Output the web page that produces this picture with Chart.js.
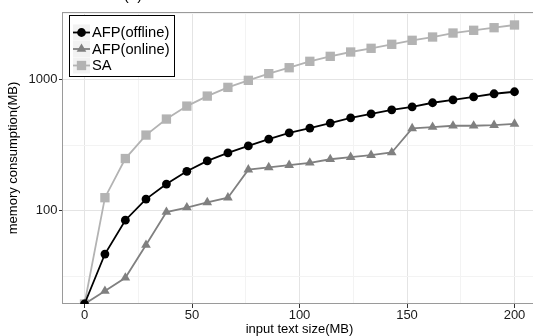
<!DOCTYPE html>
<html>
<head>
<meta charset="utf-8">
<script src="https://cdn.jsdelivr.net/npm/chart.js@4.4.0/dist/chart.umd.min.js"></script>
<style>
  html, body { margin: 0; padding: 0; background: #fff; overflow: hidden; }
</style>
</head>
<body>
<canvas id="chart" width="536" height="336"></canvas>
<script>
// input sizes (MB), 22 runs
const sizes = [0, 9.5, 19.0, 28.6, 38.1, 47.6, 57.1, 66.7, 76.2, 85.7, 95.2,
               104.8, 114.3, 123.8, 133.3, 142.9, 152.4, 161.9, 171.4, 181.0, 190.5, 200];
// memory consumption (MB)
const afpOffline = [19.6, 47, 85, 123, 160, 200, 240, 276, 312, 351, 392,
                    426, 465, 510, 547, 587, 618, 664, 699, 737, 777, 805];
const afpOnline  = [19.6, 24.6, 31, 55, 98, 106, 116, 126, 206, 214, 223,
                    232, 247, 256, 265, 278, 424, 434, 444, 444, 449, 459];
const sa         = [19.6, 126, 250, 377, 499, 626, 746, 869, 983, 1105, 1226,
                    1371, 1496, 1614, 1722, 1847, 1980, 2098, 2250, 2360, 2470, 2590];

const xTicks = [0, 50, 100, 150, 200];
const xMinor = [25, 75, 125, 175];
const yTicks = [100, 1000];
const yMinor = [31.62, 316.2, 3162];

const FONT = '"Liberation Sans", Arial, Helvetica, sans-serif';

function pts(ys) {
    return sizes.map((x, i) => ({ x: x, y: ys[i] }));
}

// panel border, legend box and the cut-off panel title
const frame = {
    id: 'frame',
    beforeDatasetsDraw(chart) {
        const ctx = chart.ctx, a = chart.chartArea;
        ctx.save();
        ctx.strokeStyle = '#9a9a9a';
        ctx.lineWidth = 1;
        ctx.strokeRect(a.left - 0.5, a.top + 0.5, a.right - a.left + 10, a.bottom - a.top - 1);
        ctx.restore();
    },
    afterDraw(chart) {
        const ctx = chart.ctx;
        ctx.save();
        ctx.fillStyle = '#fff';
        ctx.fillRect(69.5, 15.5, 105, 61);
        ctx.strokeStyle = '#000';
        ctx.lineWidth = 1;
        ctx.strokeRect(69.5, 15.5, 105, 61);

        const rows = [32.5, 49, 65.5];
        chart.data.datasets.forEach((ds, i) => {
            const cy = rows[i];
            ctx.fillStyle = '#f2f2f2';
            ctx.fillRect(73, cy - 8, 17, 16);
            ctx.strokeStyle = ds.borderColor;
            ctx.lineWidth = ds.borderWidth;
            ctx.beginPath();
            ctx.moveTo(73, cy);
            ctx.lineTo(90, cy);
            ctx.stroke();
            ctx.fillStyle = ds.pointBackgroundColor;
            Chart.helpers.drawPoint(ctx, {
                pointStyle: ds.pointStyle, radius: ds.pointRadius, rotation: 0, borderWidth: 0
            }, 81.5, cy);
            ctx.fillStyle = '#000';
            ctx.font = '14.7px ' + FONT;
            ctx.textAlign = 'left';
            ctx.textBaseline = 'middle';
            ctx.fillText(ds.label, 92, cy + 0.5);
        });

        ctx.fillStyle = '#000';
        ctx.font = '15px ' + FONT;
        ctx.textAlign = 'center';
        ctx.textBaseline = 'alphabetic';
        ctx.fillText('(a)', 133, -0.5);
        ctx.restore();
    }
};

const ctx = document.getElementById('chart').getContext('2d');

const config = {
    type: 'line',
    data: {
        datasets: [
            {
                label: 'AFP(offline)',
                data: pts(afpOffline),
                borderColor: '#000000',
                pointBackgroundColor: '#000000',
                pointBorderWidth: 0,
                pointStyle: 'circle',
                pointRadius: 4.4,
                borderWidth: 1.8
            },
            {
                label: 'AFP(online)',
                data: pts(afpOnline),
                borderColor: '#808080',
                pointBackgroundColor: '#808080',
                pointBorderWidth: 0,
                pointStyle: 'triangle',
                pointRadius: 5.6,
                borderWidth: 1.8
            },
            {
                label: 'SA',
                data: pts(sa),
                borderColor: '#b3b3b3',
                pointBackgroundColor: '#b3b3b3',
                pointBorderWidth: 0,
                pointStyle: 'rect',
                pointRadius: 6.6,
                borderWidth: 1.8
            }
        ]
    },
    options: {
        responsive: false,
        animation: false,
        layout: { autoPadding: false, padding: { top: 12, right: 0, bottom: 0, left: 0 } },
        plugins: {
            legend: { display: false },
            tooltip: { enabled: false }
        },
        scales: {
            x: {
                type: 'linear',
                min: -10,
                max: 210,
                afterBuildTicks: (s) => { s.ticks = xTicks.concat(xMinor).sort((a, b) => a - b).map(v => ({ value: v })); },
                afterFit: (s) => { s.height = 32; s.paddingLeft = 0; s.paddingRight = 0; },
                border: { display: false },
                grid: {
                    color: (c) => (c.tick && xTicks.includes(c.tick.value)) ? '#e4e4e4' : '#f3f3f3',
                    tickColor: (c) => (c.tick && xTicks.includes(c.tick.value)) ? '#333' : 'rgba(0,0,0,0)',
                    tickLength: 4,
                    lineWidth: 1
                },
                ticks: {
                    autoSkip: false,
                    maxRotation: 0,
                    padding: 0,
                    color: '#1a1a1a',
                    font: { family: FONT, size: 13 },
                    callback: (v) => xTicks.includes(v) ? String(v) : ''
                },
                title: {
                    display: true,
                    text: 'input text size(MB)',
                    color: '#000',
                    font: { family: FONT, size: 13, lineHeight: 1 },
                    padding: { top: 0, bottom: 0 }
                }
            },
            y: {
                type: 'logarithmic',
                min: 19.6,
                max: 3251,
                bounds: 'data',
                afterBuildTicks: (s) => { s.ticks = yMinor.concat(yTicks).sort((a, b) => a - b).map(v => ({ value: v })); },
                afterFit: (s) => { s.width = 63; s.paddingTop = 0; s.paddingBottom = 0; },
                border: { display: false },
                grid: {
                    color: (c) => (c.tick && yTicks.includes(c.tick.value)) ? '#e4e4e4' : '#f3f3f3',
                    tickColor: (c) => (c.tick && yTicks.includes(c.tick.value)) ? '#333' : 'rgba(0,0,0,0)',
                    tickLength: 4,
                    lineWidth: 1
                },
                ticks: {
                    autoSkip: false,
                    padding: 1.5,
                    color: '#1a1a1a',
                    font: { family: FONT, size: 13 },
                    callback: (v) => yTicks.includes(v) ? String(v) : ''
                },
                title: {
                    display: true,
                    text: 'memory consumption(MB)',
                    color: '#000',
                    font: { family: FONT, size: 13 },
                    padding: { top: 6, bottom: 0 }
                }
            }
        }
    },
    plugins: [frame]
};

const chart = new Chart(ctx, config);
</script>
</body>
</html>
